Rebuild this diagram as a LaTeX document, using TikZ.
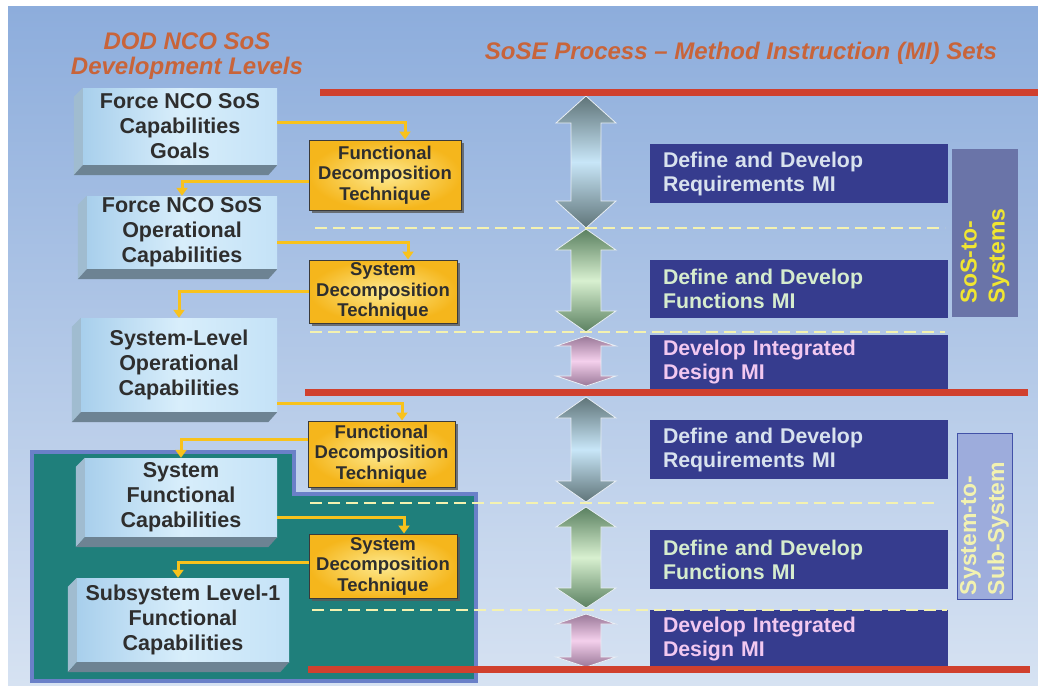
\documentclass[tikz,border=0pt]{standalone}
\usepackage{fontspec}
\setmainfont{Liberation Sans}
\usetikzlibrary{arrows.meta,calc,shadows}
\definecolor{BgTop}{HTML}{8DADDC}
\definecolor{BgBot}{HTML}{D6E2F2}
\definecolor{TitleOr}{HTML}{C8643A}
\definecolor{RedLn}{HTML}{D0402E}
\definecolor{DashY}{HTML}{F4F2B0}
\definecolor{LvlA}{HTML}{A8CFEC}
\definecolor{LvlB}{HTML}{C4E2F7}
\definecolor{LvlC}{HTML}{D8EEFB}
\definecolor{BevL}{HTML}{A0BCD0}
\definecolor{BevB}{HTML}{6D8393}
\definecolor{TxtDark}{HTML}{2E2E2E}
\definecolor{TechIn}{HTML}{FDE98E}
\definecolor{TechOut}{HTML}{F5B61C}
\definecolor{TechLine}{HTML}{3A3A3A}
\definecolor{ConnY}{HTML}{F8C21C}
\definecolor{MIBlue}{HTML}{363C8E}
\definecolor{MIReq}{HTML}{D8E2EE}
\definecolor{MIFun}{HTML}{D6ECCE}
\definecolor{MIDes}{HTML}{F2C8F0}
\definecolor{TealF}{HTML}{1F7F7B}
\definecolor{TealE}{HTML}{6A80C8}
\definecolor{SideA}{HTML}{6A74A8}
\definecolor{SideB}{HTML}{9DACDC}
\definecolor{SideBE}{HTML}{4252A8}
\definecolor{SideTxtA}{HTML}{F0E630}
\definecolor{SideTxtB}{HTML}{F2F2B0}
\definecolor{ArrEdge}{HTML}{E8EEF4}
\definecolor{GreyD}{HTML}{5F7478}
\definecolor{GreyL}{HTML}{C8E6F8}
\definecolor{GreenD}{HTML}{5A8060}
\definecolor{GreenL}{HTML}{D8F0D0}
\definecolor{PinkD}{HTML}{9A7898}
\definecolor{PinkL}{HTML}{F4D0EC}
\newcommand\lvlfont{\fontsize{21.5}{25}\selectfont\bfseries}
\newcommand\techfont{\fontsize{18.5}{20.5}\selectfont\bfseries}
\newcommand\mifont{\fontsize{21.3}{24}\selectfont\bfseries}
\newcommand\ttlfont{\fontsize{24}{25}\selectfont\bfseries\itshape}
\newcommand\sidefont{\fontsize{23}{28}\selectfont\bfseries}
\newcommand\bevelof[1]{%
  \fill[BevL] (#1.north west) -- ($(#1.north west)+(-9,9)$) -- ($(#1.south west)+(-9,10)$) -- (#1.south west) -- cycle;
  \fill[BevB] (#1.south west) -- (#1.south east) -- ($(#1.south east)+(-9,10)$) -- ($(#1.south west)+(-9,10)$) -- cycle;}
\newcommand\dblarr[6]{%
  \shadedraw[top color=#5, bottom color=#5, middle color=#6, draw=ArrEdge, line width=0.8pt]
  (#1,#2) -- (#1+30,#2+#4) -- (#1+15,#2+#4) -- (#1+15,#3-#4) -- (#1+30,#3-#4) -- (#1,#3)
  -- (#1-30,#3-#4) -- (#1-15,#3-#4) -- (#1-15,#2+#4) -- (#1-30,#2+#4) -- cycle;}
\tikzset{
  lvl/.style={left color=LvlA, right color=LvlB, middle color=LvlC, font=\lvlfont, text=TxtDark, align=center, inner sep=0pt},
  tech/.style={draw=TechLine, line width=1pt, inner color=TechIn, outer color=TechOut, font=\techfont, text=TxtDark, align=center, inner sep=0pt,
    drop shadow={shadow xshift=3pt, shadow yshift=-3pt, fill=black!65, opacity=0.8}},
  mi/.style={fill=MIBlue, font=\mifont, align=left, text width=272pt, inner xsep=13pt, inner ysep=0pt},
  conn/.style={draw=ConnY, line width=3pt, -{Triangle[width=11pt,length=8pt]}},
  redline/.style={draw=RedLn, line width=7pt},
  dashy/.style={draw=DashY, line width=2.5pt, dash pattern=on 12pt off 6pt},
  ttl/.style={font=\ttlfont, text=TitleOr, align=center, inner sep=0pt},
}
\begin{document}
\begin{tikzpicture}[x=1pt,y=-1pt]
\useasboundingbox (0,0) rectangle (1038,685);
\fill[white] (0,0) rectangle (1038,685);
\shade[top color=BgTop, bottom color=BgBot] (8,7) rectangle (1038,685);

% titles
\node[ttl] (t1) at (187,56) {DOD NCO SoS\\Development Levels};
\node[ttl] (t2) at (741,53) {SoSE Process -- Method Instruction (MI) Sets};

% teal region
\filldraw[fill=TealF, draw=TealE, line width=4pt] (32,452) -- (294,452) -- (294,494) -- (476,494) -- (476,681) -- (32,681) -- cycle;

% level boxes
\node[lvl, minimum width=194pt, minimum height=77pt] (lv1) at (180,126.5) {Force NCO SoS\\Capabilities\\Goals};
\node[lvl, minimum width=190pt, minimum height=73pt] (lv2) at (182,232.5) {Force NCO SoS\\Operational\\Capabilities};
\node[lvl, minimum width=196pt, minimum height=94pt] (lv3) at (179,365) {System-Level\\Operational\\Capabilities};
\node[lvl, minimum width=192pt, minimum height=79pt] (lv4) at (181,497.5) {System\\Functional\\Capabilities};
\node[lvl, minimum width=212pt, minimum height=84pt] (lv5) at (183,620) {Subsystem Level-1\\Functional\\Capabilities};
\bevelof{lv1}\bevelof{lv2}\bevelof{lv3}\bevelof{lv4}\bevelof{lv5}

% technique boxes
\node[tech, minimum width=152pt, minimum height=70pt] (tq1) at (385,175) {Functional\\Decomposition\\Technique};
\node[tech, minimum width=148pt, minimum height=63pt] (tq2) at (383,291.5) {System\\Decomposition\\Technique};
\node[tech, minimum width=147pt, minimum height=66pt] (tq3) at (381.5,454) {Functional\\Decomposition\\Technique};
\node[tech, minimum width=148pt, minimum height=64pt] (tq4) at (383,566) {System\\Decomposition\\Technique};

% connectors
\draw[conn] ([yshift=4.5pt]lv1.east) -| ([xshift=20pt]tq1.north);
\draw[conn] ([yshift=-6pt]tq1.west) -| (lv2.north);
\draw[conn] ([yshift=-9.5pt]lv2.east) -| ([xshift=25pt]tq2.north);
\draw[conn] (tq2.west) -| (lv3.north);
\draw[conn] ([yshift=-38pt]lv3.east) -| ([xshift=20.5pt]tq3.north);
\draw[conn] ([yshift=15pt]tq3.west) -| (lv4.north);
\draw[conn] ([yshift=-19.5pt]lv4.east) -| ([xshift=21pt]tq4.north);
\draw[conn] ([yshift=4pt]tq4.west) -| ([xshift=-5pt]lv5.north);

% MI boxes
\node[mi, text=MIReq, minimum height=59pt] (mi1) at (799,173.5) {Define and Develop\\Requirements MI};
\node[mi, text=MIFun, minimum height=58pt] (mi2) at (799,289) {Define and Develop\\Functions MI};
\node[mi, text=MIDes, minimum height=54pt] (mi3) at (799,362) {Develop Integrated\\Design MI};
\node[mi, text=MIReq, minimum height=59pt] (mi4) at (799,449.5) {Define and Develop\\Requirements MI};
\node[mi, text=MIFun, minimum height=59pt] (mi5) at (799,559.5) {Define and Develop\\Functions MI};
\node[mi, text=MIDes, minimum height=58pt] (mi6) at (799,639) {Develop Integrated\\Design MI};

% double arrows
\dblarr{586}{96}{228}{27}{GreyD}{GreyL}
\dblarr{586}{229}{332}{21}{GreenD}{GreenL}
\dblarr{586}{336}{386}{10}{PinkD}{PinkL}
\dblarr{586}{397}{502}{21}{GreyD}{GreyL}
\dblarr{586}{507}{608}{20}{GreenD}{GreenL}
\dblarr{586}{614}{667}{10}{PinkD}{PinkL}

% side labels
\node[rotate=90, fill=SideA, text=SideTxtA, font=\sidefont, align=left, text width=140pt, inner xsep=14pt, inner ysep=0pt, minimum height=66pt] (s1) at (985,233) {SoS-to-\\Systems};
\node[rotate=90, fill=SideB, draw=SideBE, line width=1pt, text=SideTxtB, font=\sidefont, align=left, text width=158pt, inner xsep=4pt, inner ysep=0pt, minimum height=55pt] (s2) at (984.5,516) {System-to-\\Sub-System};

% dashed separators
\draw[dashy] (315,228) -- (945,228);
\draw[dashy] (310,332) -- (945,332);
\draw[dashy] (310,503) -- (936,503);
\draw[dashy] (312,610) -- (947,610);

% red level lines
\draw[redline] (320,92) -- (1038,92);
\draw[redline] (305,392) -- (1028,392);
\draw[redline] (308,669) -- (1030,669);
\end{tikzpicture}
\end{document}
